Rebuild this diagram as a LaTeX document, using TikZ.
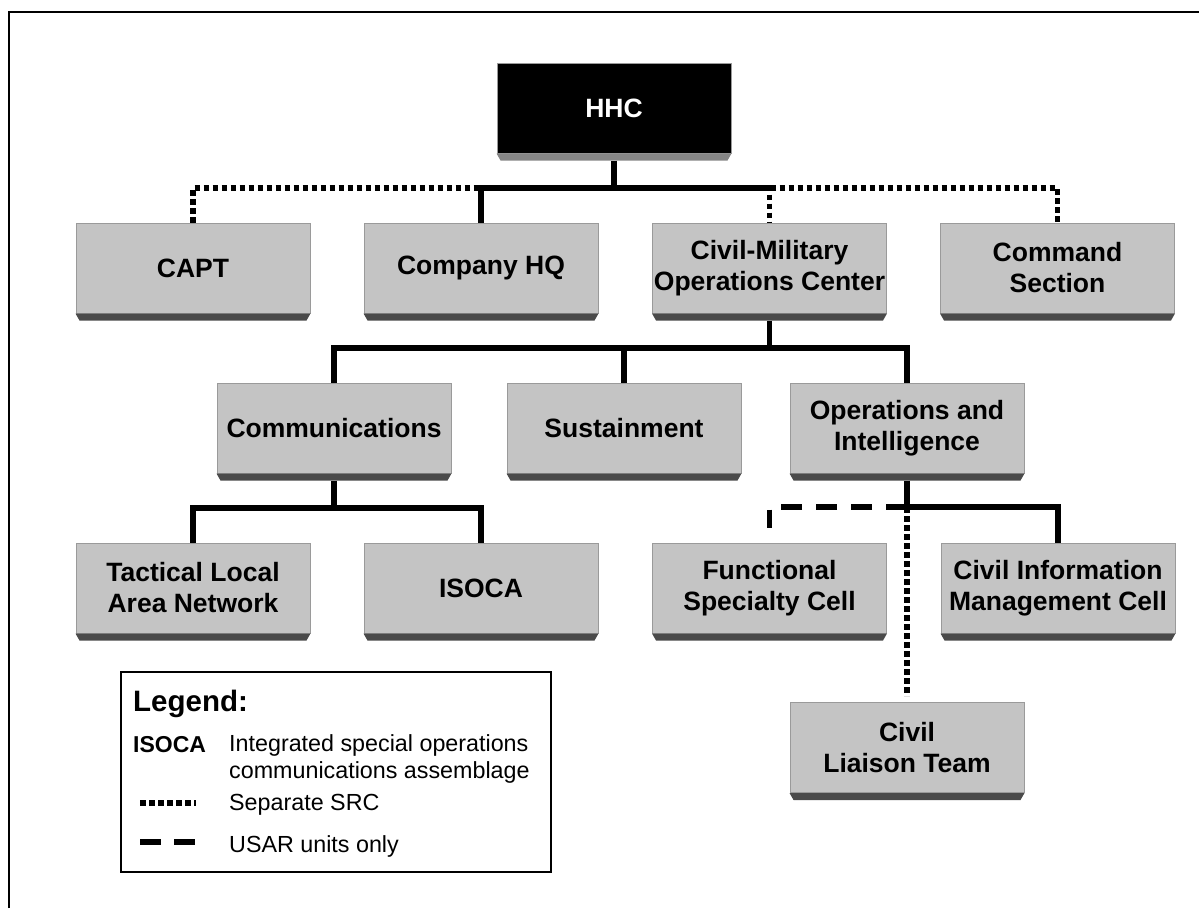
\documentclass[tikz,border=0pt]{standalone}
\usepackage{fontspec}
\setmainfont{Liberation Sans}
\definecolor{boxfill}{HTML}{C4C4C4}
\definecolor{boxedge}{HTML}{9A9A9A}
\definecolor{boxshade}{HTML}{4A4A4A}
\definecolor{topshade}{HTML}{858585}

\tikzset{
  unit/.style={draw=boxedge, line width=1pt, fill=boxfill,
    minimum width=234pt, minimum height=90pt, inner sep=0pt,
    align=center, font=\fontsize{26.5}{31}\selectfont\bfseries},
  topunit/.style={unit, fill=black, text=white},
  link/.style={line width=5.5pt},
  srclink/.style={line width=5.5pt, dash pattern=on 5.5pt off 3.5pt},
  usarlink/.style={line width=5.5pt, dash pattern=on 21pt off 14pt},
  legtext/.style={anchor=base west, inner sep=0pt, font=\fontsize{23.3}{27}\selectfont},
}

% bevelled bottom face under a unit box
\newcommand\unitshade[2][boxshade]{%
  \fill[#1] (#2.south west) -- (#2.south east)
    -- ([shift={(-4,7)}]#2.south east) -- ([shift={(4,7)}]#2.south west) -- cycle;}

\begin{document}
\begin{tikzpicture}[x=1pt,y=-1pt]
\useasboundingbox (0,0) rectangle (1199,908);

% page frame
\draw[line width=2pt] (9,908) -- (9,12) -- (1199,12);

% units
\node[topunit] (hhc) at (614,108) {HHC};

\node[unit] (capt) at (193,268)   {CAPT};
\node[unit] (chq)  at (481,268)   {Company HQ};
\node[unit] (cmoc) at (769.5,268) {Civil-Military\\Operations Center};
\node[unit] (cs)   at (1057.5,268){Command\\Section};

\node[unit] (comm) at (334,428) {Communications};
\node[unit] (sus)  at (624,428) {Sustainment};
\node[unit] (oi)   at (907,428) {Operations and\\Intelligence};

\node[unit] (tlan) at (193,588)   {Tactical Local\\Area Network};
\node[unit] (isoca) at (481,588)  {ISOCA};
\node[unit] (fsc)  at (769.5,588) {Functional\\Specialty Cell};
\node[unit] (cimc) at (1058,588)  {Civil Information\\Management Cell};

\node[unit] (clt)  at (907,747.5) {Civil\\Liaison Team};

\unitshade[topshade]{hhc}
\foreach \u in {capt,chq,cmoc,cs,comm,sus,oi,tlan,isoca,fsc,cimc,clt}{\unitshade{\u}}

% junctions
\coordinate (hbus) at (614,188);
\coordinate (cmj)  at (769.5,348);
\coordinate (cj)   at (334,508);
\coordinate (oij)  at (907,507);
\coordinate (fscj) at (769.5,528);

% HHC level
\draw[srclink] (capt.north) |- (hbus) -| (cs.north);
\draw[srclink] (hbus) -| (cmoc.north);
\draw[link] ([yshift=-7pt]hhc.south) -- (hbus) -| (chq.north);

% CMOC level
\draw[link] ([yshift=-7pt]cmoc.south) -- (cmj);
\draw[link] (comm.north) |- (cmj) -| (oi.north);
\draw[link] (sus.north) -- (sus.north |- cmj);

% Communications level
\draw[link] ([yshift=-7pt]comm.south) -- (cj);
\draw[link] (tlan.north) |- (cj) -| (isoca.north);

% Operations and Intelligence level
\draw[srclink, shorten >=6pt] (oij) -- (clt.north);
\draw[usarlink] (oij) -| (fscj);
\draw[link] ([yshift=-7pt]oi.south) -- (oij) -| (cimc.north);

% legend
\node[draw, line width=1.3pt, minimum width=430pt, minimum height=200pt, inner sep=0pt] (legend) at (336,772) {};
\node[anchor=base west, inner sep=0pt, font=\fontsize{29.5}{33}\selectfont\bfseries] (legtitle) at (133,711) {Legend:};
\node[anchor=base west, inner sep=0pt, font=\fontsize{23}{27}\selectfont\bfseries] (legabbr) at (133,752) {ISOCA};
\node[legtext] (legisoca1) at (229,751) {Integrated special operations};
\node[legtext] (legisoca2) at (229,778) {communications assemblage};
\node[legtext] (legsrc) at (229,810) {Separate SRC};
\node[legtext] (legusar) at (229,852) {USAR units only};
\coordinate (srcA) at (140,803);
\coordinate (srcB) at (196,803);
\coordinate (usarA) at (140,842);
\coordinate (usarB) at (195,842);
\draw[srclink] (srcA) -- (srcB);
\draw[usarlink, dash pattern=on 21pt off 13pt] (usarA) -- (usarB);
\end{tikzpicture}
\end{document}
